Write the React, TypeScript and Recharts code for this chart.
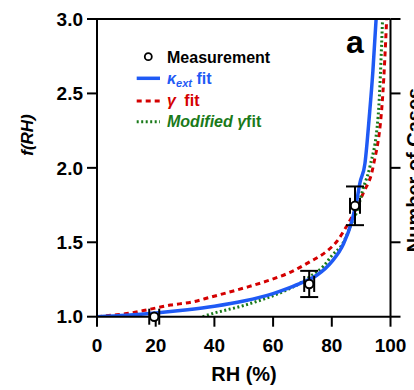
import React from "react";
import { ComposedChart, ErrorBar, Line, Scatter, XAxis, YAxis } from "recharts";

// kappa_ext fit
const kappaRH = [0, 10, 20, 30, 40, 50, 60, 65, 70, 75, 80, 84, 86.8, 88.5, 89.6, 91.3, 92.8, 94, 95.1];
const kappaF = [1.0, 1.01, 1.025, 1.045, 1.07, 1.105, 1.155, 1.19, 1.23, 1.28, 1.37, 1.49, 1.64, 1.78, 1.9, 2.03, 2.35, 2.65, 3.0];

// gamma fit
const gammaRH = [0, 5, 11, 18, 25, 32, 38.5, 45, 51, 59, 66, 72.6, 78.3, 81.7, 85.1, 87.9, 90.7, 94.1, 97.4, 98.7];
const gammaF = [1.0, 1.01, 1.023, 1.05, 1.078, 1.097, 1.13, 1.165, 1.198, 1.247, 1.3, 1.37, 1.44, 1.505, 1.61, 1.71, 1.83, 2.01, 2.5, 3.0];

// modified gamma fit
const modRH = [36, 40, 43, 50, 57, 63.6, 70.4, 72.6, 77.2, 80, 84, 86.8, 88.6, 90.5, 93, 95.8, 97.3];
const modF = [1.0, 1.025, 1.04, 1.075, 1.12, 1.17, 1.24, 1.27, 1.34, 1.41, 1.5, 1.63, 1.71, 1.85, 2.01, 2.35, 3.0];

// measurements with uncertainties
const measRH = [19.5, 72.3, 87.9];
const measF = [1.0, 1.22, 1.745];
const measRHErr = [1.7, 1.7, 1.7];
const measFErr = [0, 0.088, 0.13];

const xTicks = [0, 20, 40, 60, 80, 100];
const yTicks = [1.0, 1.5, 2.0, 2.5, 3.0];

const toRows = (rh: number[], f: number[]) => rh.map((x, i) => ({ rh: x, f: f[i] }));
const kappaData = toRows(kappaRH, kappaF);
const gammaData = toRows(gammaRH, gammaF);
const modData = toRows(modRH, modF);
const measData = measRH.map((x, i) => ({ rh: x, f: measF[i], xErr: measRHErr[i], yErr: measFErr[i] }));

const FONT = '"Liberation Sans", Arial, sans-serif';
const BLUE = "#1f5af5";
const RED = "#d40000";
const GREEN = "#1a7a1a";

const axisLine = { stroke: "#000", strokeWidth: 2 };
const tickStyle = { fill: "#000", fontSize: 19, fontWeight: "bold", fontFamily: FONT };

const Ring = (p: any) => <circle cx={p.cx} cy={p.cy} r={4.2} fill="#fff" stroke="#000" strokeWidth={2} />;

export default function App() {
  return (
    <div style={{ position: "absolute", left: 0, top: 0, width: 414, height: 390, background: "#fff" }}>
      <ComposedChart width={414} height={390} margin={{ top: 9, right: 0, bottom: 0, left: 0 }}>
        <XAxis
          xAxisId="b"
          type="number"
          dataKey="rh"
          domain={[0, 100]}
          ticks={xTicks}
          height={73.3}
          tickSize={10}
          tickMargin={12}
          axisLine={axisLine}
          tickLine={axisLine}
          tick={tickStyle}
          label={{
            content: () => (
              <text x={244} y={380.7} textAnchor="middle" fontFamily={FONT} fontWeight="bold" fontSize={20}>
                RH (%)
              </text>
            ),
          }}
        />
        <XAxis
          xAxisId="t"
          orientation="top"
          type="number"
          domain={[0, 100]}
          ticks={xTicks}
          height={10}
          tickSize={10}
          axisLine={axisLine}
          tickLine={axisLine}
          tickFormatter={() => ""}
        />
        <YAxis
          yAxisId="l"
          type="number"
          dataKey="f"
          domain={[1, 3]}
          allowDataOverflow
          ticks={yTicks}
          width={97}
          tickSize={10}
          tickMargin={4}
          axisLine={axisLine}
          tickLine={axisLine}
          tick={tickStyle}
          tickFormatter={(v: number) => v.toFixed(1)}
          label={{
            content: () => (
              <text
                transform="translate(33,135) rotate(-90)"
                textAnchor="middle"
                fontFamily={FONT}
                fontWeight="bold"
                fontStyle="italic"
                fontSize={17}
              >
                f(RH)
              </text>
            ),
          }}
        />
        <YAxis
          yAxisId="r"
          orientation="right"
          type="number"
          dataKey="f"
          domain={[1, 3]}
          ticks={yTicks}
          width={23.5}
          tickSize={10}
          axisLine={axisLine}
          tickLine={axisLine}
          tickFormatter={() => ""}
          label={{
            content: () => (
              <text
                transform="translate(420.5,170) rotate(-90)"
                textAnchor="middle"
                fontFamily={FONT}
                fontWeight="bold"
                fontSize={20}
              >
                Number of Cases
              </text>
            ),
          }}
        />
        <Line
          xAxisId="b"
          yAxisId="l"
          data={gammaData}
          dataKey="f"
          type="monotone"
          stroke={RED}
          strokeWidth={3}
          strokeDasharray="5 4"
          dot={false}
          activeDot={false}
          isAnimationActive={false}
        />
        <Line
          xAxisId="b"
          yAxisId="l"
          data={modData}
          dataKey="f"
          type="monotone"
          stroke={GREEN}
          strokeWidth={3}
          strokeDasharray="2 2.5"
          dot={false}
          activeDot={false}
          isAnimationActive={false}
        />
        <Line
          xAxisId="b"
          yAxisId="l"
          data={kappaData}
          dataKey="f"
          type="monotone"
          stroke={BLUE}
          strokeWidth={3.5}
          dot={false}
          activeDot={false}
          isAnimationActive={false}
        />
        <Scatter xAxisId="b" yAxisId="r" data={measData} shape={Ring} isAnimationActive={false}>
          <ErrorBar dataKey="yErr" direction="y" width={9} stroke="#000" strokeWidth={2} isAnimationActive={false} />
          <ErrorBar dataKey="xErr" direction="x" width={8} stroke="#000" strokeWidth={2} isAnimationActive={false} />
        </Scatter>
      </ComposedChart>

      {/* legend and panel letter */}
      <svg width={414} height={390} style={{ position: "absolute", left: 0, top: 0, pointerEvents: "none" }}>
        <g fontFamily={FONT} fontWeight="bold" fontSize={16}>
          <circle cx={148.3} cy={56.7} r={3.5} fill="#fff" stroke="#000" strokeWidth={1.8} />
          <text x={167} y={63}>Measurement</text>

          <line x1={136.7} y1={78.3} x2={160} y2={78.3} stroke={BLUE} strokeWidth={3.5} />
          <text x={167} y={83.5} fill={BLUE}>
            <tspan fontStyle="italic">κ</tspan>
            <tspan fontStyle="italic" fontSize={11} dy={3}>ext</tspan>
            <tspan dy={-3}> fit</tspan>
          </text>

          <line x1={136.7} y1={101} x2={160} y2={101} stroke={RED} strokeWidth={3} strokeDasharray="5 4" />
          <text x={167} y={105.5} fill={RED}>
            <tspan fontStyle="italic">γ</tspan>
            <tspan dx={4}> fit</tspan>
          </text>

          <line x1={136.7} y1={121.7} x2={160} y2={121.7} stroke={GREEN} strokeWidth={3} strokeDasharray="2 2.5" />
          <text x={167} y={127} fill={GREEN}>
            <tspan fontStyle="italic">Modified γ</tspan>
            <tspan>fit</tspan>
          </text>
        </g>
        <text x={346} y={53.3} fontFamily={FONT} fontWeight="bold" fontSize={32}>
          a
        </text>
      </svg>
    </div>
  );
}
